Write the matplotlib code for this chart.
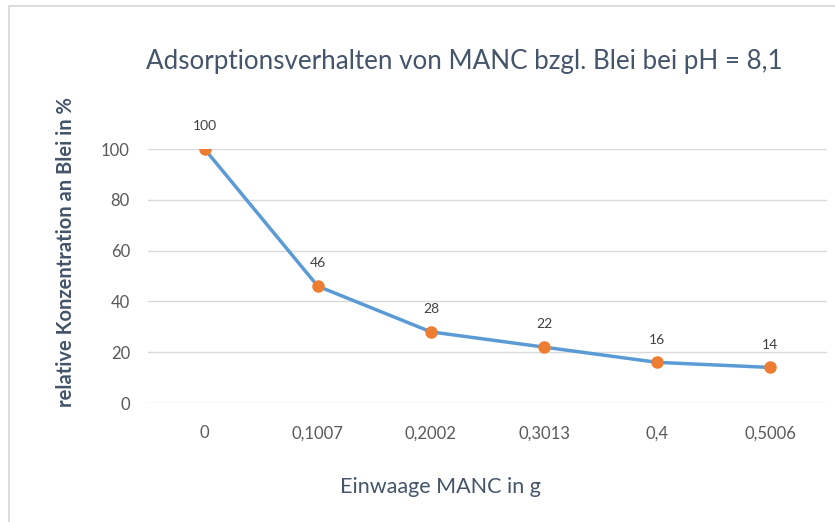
import matplotlib
matplotlib.use("Agg")
import matplotlib.pyplot as plt
from matplotlib.patches import Rectangle

categories = ["0", "0,1007", "0,2002", "0,3013", "0,4", "0,5006"]
values = [100, 46, 28, 22, 16, 14]
yticks = [0, 20, 40, 60, 80, 100]

plt.rcParams['font.family'] = ['Lato', 'DejaVu Sans']

W, H = 835, 522
fig = plt.figure(figsize=(W / 100, H / 100), dpi=100)

# chart frame (light gray, extends past right/bottom edges)
fig.patches.append(Rectangle((9 / W, -0.1), 1.2, (H - 6) / H + 0.1,
                             transform=fig.transFigure, fill=False,
                             edgecolor="#D9D9D9", linewidth=1.3))

ax = fig.add_axes([148 / W, (H - 403) / H, (827 - 148) / W, 254 / H])
x = list(range(len(categories)))
ax.plot(x, values, color="#5B9BD5", linewidth=2.5, zorder=3)
ax.plot(x, values, linestyle="none", marker="o", markersize=8,
        markerfacecolor="#ED7D31", markeredgecolor="#ED7D31", zorder=4)
for xi, v in zip(x, values):
    ax.annotate(str(v), (xi, v), xytext=(0, 12), textcoords="offset points",
                ha="center", va="bottom", fontsize=10, color="#404040")

ax.set_xlim(-0.5, len(categories) - 0.5)
ax.set_ylim(0, 100)
ax.set_yticks(yticks)
ax.set_yticklabels([str(t) for t in yticks])
ax.set_xticks(x)
ax.set_xticklabels(categories)
ax.tick_params(axis="both", length=0, labelsize=12, labelcolor="#595959")
ax.tick_params(axis="y", pad=13)
ax.tick_params(axis="x", pad=16)
ax.grid(axis="y", color="#D9D9D9", linewidth=1)
ax.set_axisbelow(True)
for s in ax.spines.values():
    s.set_visible(False)

fig.text(464 / W, 1 - 62 / H, "Adsorptionsverhalten von MANC bzgl. Blei bei pH = 8,1",
         ha="center", va="center", fontsize=18.7, color="#44546A")
fig.text(440 / W, 1 - 487 / H, "Einwaage MANC in g",
         ha="center", va="center", fontsize=15.5, color="#44546A")
fig.text(66 / W, 1 - 252 / H, "relative Konzentration an Blei in %",
         ha="center", va="center", rotation=90, fontsize=14.5, color="#44546A",
         fontweight="bold")

fig.savefig("out.png", dpi=100, facecolor="white")
